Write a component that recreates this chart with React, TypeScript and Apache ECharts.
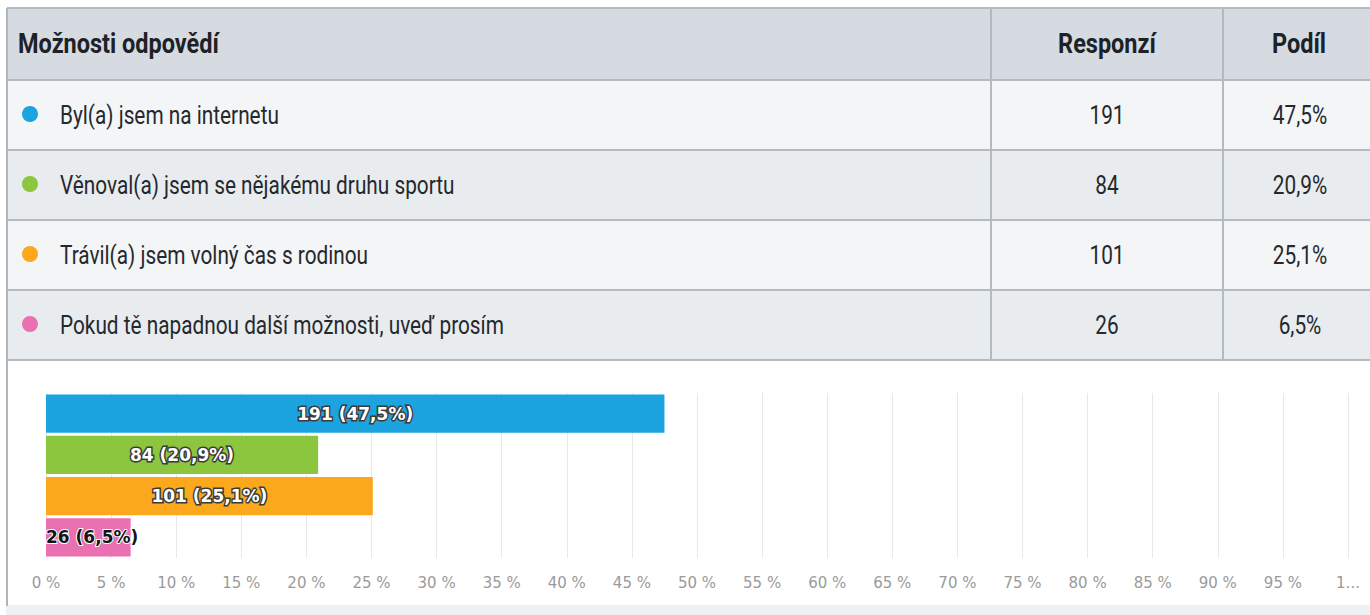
import React, { useEffect, useRef } from 'react';
import * as echarts from 'echarts';

const headers = ['Možnosti odpovědí', 'Responzí', 'Podíl'];
const answers = [
  'Byl(a) jsem na internetu',
  'Věnoval(a) jsem se nějakému druhu sportu',
  'Trávil(a) jsem volný čas s rodinou',
  'Pokud tě napadnou další možnosti, uveď prosím',
];
const counts = [191, 84, 101, 26];
const shares = [47.5, 20.9, 25.1, 6.5];
const shareLabels = ['47,5%', '20,9%', '25,1%', '6,5%'];
const colors = ['#1ba4df', '#8cc63e', '#fba81d', '#e970b1'];

const TFONT = "Roboto, 'Noto Sans', sans-serif";

export default function App() {
  const ref = useRef<HTMLDivElement>(null);
  useEffect(() => {
    document.body.style.margin = '0';
    const chart = echarts.init(ref.current!, null, { renderer: 'svg' });

    const tableTop = 8;
    const headH = 72;
    const rowH = 70;
    const col1 = 991;
    const col2 = 1223;
    const tableBottom = tableTop + headH + rowH * answers.length;
    const rowScale = 0.8;
    const headScale = 0.87;
    const g: any[] = [];
    g.push({ type: 'rect', shape: { x: 8, y: tableTop, width: 1362, height: headH }, style: { fill: '#d5dbe1' }, z: 1 });
    answers.forEach((_, i) => {
      g.push({
        type: 'rect',
        shape: { x: 8, y: tableTop + headH + i * rowH, width: 1362, height: rowH },
        style: { fill: i % 2 === 0 ? '#f4f5f6' : '#e9ecef' },
        z: 1,
      });
    });
    for (let i = 0; i <= answers.length + 1; i++) {
      const y = i === 0 ? tableTop : tableTop + headH + (i - 1) * rowH;
      g.push({ type: 'line', shape: { x1: 7, y1: y, x2: 1370, y2: y }, style: { stroke: '#b3bac0', lineWidth: 2 }, z: 3 });
    }
    [col1, col2].forEach((x) => {
      g.push({ type: 'line', shape: { x1: x, y1: tableTop, x2: x, y2: tableBottom }, style: { stroke: '#b3bac0', lineWidth: 2 }, z: 3 });
    });
    g.push({ type: 'line', shape: { x1: 7, y1: tableTop, x2: 7, y2: 606 }, style: { stroke: '#aeb5bb', lineWidth: 2 }, z: 3 });
    g.push({ type: 'rect', shape: { x: 6, y: 605, width: 1364, height: 10 }, style: { fill: '#eef2f4' }, z: 2 });

    const headY = tableTop + headH / 2;
    const headStyle = (text: string, align: string) => ({
      text,
      font: `bold 27px ${TFONT}`,
      fill: '#1d2227',
      textVerticalAlign: 'middle',
      textAlign: align,
    });
    g.push({ type: 'text', x: 18, y: headY, scaleX: headScale, style: headStyle(headers[0], 'left'), z: 5 });
    g.push({ type: 'text', x: (col1 + col2) / 2, y: headY, scaleX: headScale, style: headStyle(headers[1], 'center'), z: 5 });
    g.push({ type: 'text', x: 1299, y: headY, scaleX: headScale, style: headStyle(headers[2], 'center'), z: 5 });

    const rowStyle = (text: string, align: string) => ({
      text,
      font: `26px ${TFONT}`,
      fill: '#25292d',
      textVerticalAlign: 'middle',
      textAlign: align,
    });
    answers.forEach((a, i) => {
      const cy = tableTop + headH + i * rowH + rowH / 2;
      g.push({ type: 'circle', shape: { cx: 30, cy: cy - 1, r: 8 }, style: { fill: colors[i] }, z: 5 });
      g.push({ type: 'text', x: 60, y: cy, scaleX: rowScale, style: rowStyle(a, 'left'), z: 5 });
      g.push({ type: 'text', x: (col1 + col2) / 2, y: cy, scaleX: rowScale, style: rowStyle(String(counts[i]), 'center'), z: 5 });
      g.push({ type: 'text', x: 1300, y: cy, scaleX: rowScale, style: rowStyle(shareLabels[i], 'center'), z: 5 });
    });

    chart.setOption({
      animation: false,
      backgroundColor: '#ffffff',
      graphic: { elements: g },
      grid: { left: 46, right: 22, top: 393, bottom: 57, containLabel: false },
      xAxis: {
        type: 'value',
        min: 0,
        max: 100,
        interval: 5,
        axisLine: { show: false },
        axisTick: { show: false },
        splitLine: { show: true, lineStyle: { color: '#e8e8e8', width: 1 } },
        axisLabel: {
          margin: 17,
          color: '#9a9a9a',
          fontSize: 15,
          fontFamily: 'DejaVu Sans',
          formatter: (v: number) => (v === 100 ? '1...' : `${v} %`),
        },
      },
      yAxis: {
        type: 'category',
        inverse: true,
        data: answers,
        axisLine: { show: false },
        axisTick: { show: false },
        axisLabel: { show: false },
        splitLine: { show: false },
      },
      series: [
        {
          type: 'bar',
          barCategoryGap: '7%',
          data: shares.map((v, i) => ({
            value: v,
            itemStyle: { color: colors[i] },
            label:
              v < 10
                ? { position: 'insideLeft', distance: 0, color: '#151515', textBorderColor: '#ffffff', textBorderWidth: 2 }
                : undefined,
          })),
          label: {
            show: true,
            position: 'inside',
            fontFamily: 'DejaVu Sans',
            fontWeight: 'bold',
            fontSize: 17,
            color: '#ffffff',
            textBorderColor: '#3a3a3a',
            textBorderWidth: 3,
            formatter: (p: any) => `${counts[p.dataIndex]} (${shareLabels[p.dataIndex]})`,
          },
        },
      ],
    });
    return () => chart.dispose();
  }, []);
  return <div ref={ref} style={{ width: 1370, height: 615 }} />;
}
